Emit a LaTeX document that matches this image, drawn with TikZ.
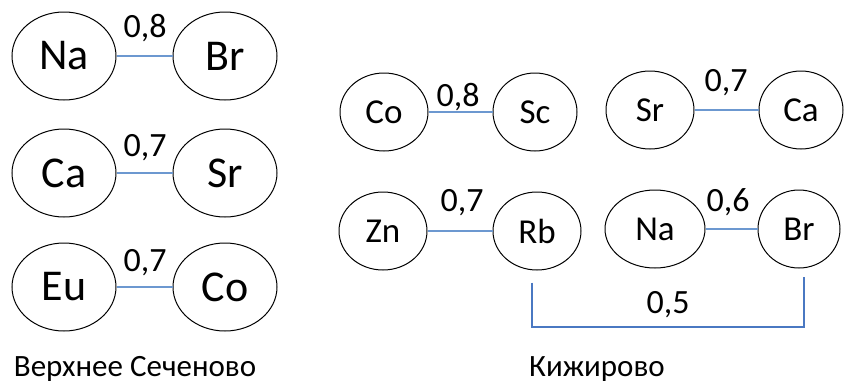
\documentclass[tikz,border=0pt]{standalone}
\usepackage{fontspec}
\setmainfont{Carlito}
\usetikzlibrary{shapes.geometric}
\definecolor{linkblue}{HTML}{6C98D0}
\definecolor{bracketblue}{HTML}{4A78C2}
\begin{document}
\begin{tikzpicture}[x=1pt,y=-1pt,
	big/.style = {draw, ellipse, line width=1pt, minimum width=104pt, minimum height=88pt, inner sep=0pt, font=\fontsize{44}{48}\selectfont},
	small/.style = {draw, ellipse, line width=1pt, minimum width=88pt, minimum height=78pt, inner sep=0pt, font=\fontsize{35}{38}\selectfont},
	weight/.style = {font=\fontsize{34}{38}\selectfont},
	caption/.style = {font=\fontsize{31}{34}\selectfont},
	link/.style = {draw=linkblue, line width=1.3pt},
	bracket/.style = {draw=bracketblue, line width=2pt}]
				\useasboundingbox (0,0) rectangle (844,389);

				% Верхнее Сеченово
				\node[big] (na1) at (64,56) {Na};
				\node[big] (br1) at (225,56) {Br};
				\node[big] (ca1) at (64,173) {Ca};
				\node[big] (sr1) at (225,173) {Sr};
				\node[big] (eu1) at (64,287) {Eu};
				\node[big] (co1) at (225,287) {Co};

				\node[weight] (w1) at (145,28) {0,8};
				\node[weight] (w2) at (145,148) {0,7};
				\node[weight] (w3) at (145,263) {0,7};

				\draw[link] (na1) to (br1)
				(ca1) to (sr1)
				(eu1) to (co1);

				% Кижирово
				\node[small] (co2) at (384,112) {Co};
				\node[small, minimum width=84pt] (sc2) at (535,112) {Sc};
				\node[small] (sr2) at (650,110) {Sr};
				\node[small, minimum width=84pt] (ca2) at (801,110) {Ca};
				\node[small] (zn2) at (383,231) {Zn};
				\node[small] (rb2) at (537,231) {Rb};
				\node[small, minimum width=100pt] (na2) at (655,229) {Na};
				\node[small, minimum width=82pt] (br2) at (799,229) {Br};

				\node[weight] (w4) at (458,97) {0,8};
				\node[weight] (w5) at (726,83) {0,7};
				\node[weight] (w6) at (462,203) {0,7};
				\node[weight] (w7) at (728,202) {0,6};
				\node[weight] (w8) at (668,305) {0,5};

				\draw[link] (co2) to (sc2)
				(sr2) to (ca2)
				(zn2) to (rb2)
				(na2) to (br2);

				\coordinate (b1) at ([xshift=-5pt,yshift=-12pt]rb2.south);
				\coordinate (b2) at ([xshift=5pt,yshift=-8pt]br2.south);
				\draw[bracket] (b1) -- ++(0,44) -| (b2);

				\node[caption] (t1) at (135,369) {Верхнее Сеченово};
				\node[caption] (t2) at (597,369) {Кижирово};

			\end{tikzpicture}
\end{document}
